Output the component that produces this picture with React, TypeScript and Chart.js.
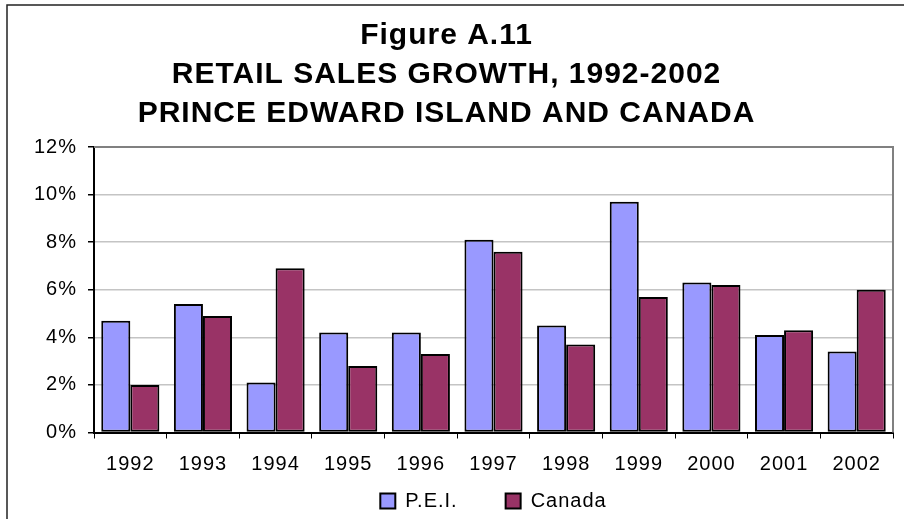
import { useEffect, useRef } from "react";
import { Chart, registerables } from "chart.js";

Chart.register(...registerables);

const years = ["1992", "1993", "1994", "1995", "1996", "1997", "1998", "1999", "2000", "2001", "2002"];
const peiGrowth = [4.7, 5.4, 2.1, 4.2, 4.2, 8.1, 4.5, 9.7, 6.3, 4.1, 3.4];
const canadaGrowth = [2.0, 4.9, 6.9, 2.8, 3.3, 7.6, 3.7, 5.7, 6.2, 4.3, 6.0];
const titleLines = ["Figure A.11", "RETAIL SALES GROWTH, 1992-2002", "PRINCE EDWARD ISLAND AND CANADA"];
const seriesNames = ["P.E.I.", "Canada"];
const yMin = 0;
const yMax = 12;
const yStep = 2;

const FONT = "'Liberation Sans', Arial, Helvetica, sans-serif";

// Slightly open letter spacing for all chart text.
const spacingPlugin = {
  id: "spacing",
  beforeUpdate(chart: any) {
    chart.ctx.letterSpacing = "1px";
  },
  beforeDraw(chart: any) {
    chart.ctx.letterSpacing = "1px";
  },
};

// White background, plot-area border (top/right) and the outer frame.
const framePlugin = {
  id: "frame",
  beforeDraw(chart: any) {
    const { ctx, width, height } = chart;
    ctx.save();
    ctx.fillStyle = "#ffffff";
    ctx.fillRect(0, 0, width, height);
    ctx.restore();
  },
  afterDraw(chart: any) {
    const { ctx, chartArea: a, width, height } = chart;
    ctx.save();
    ctx.strokeStyle = "#808080";
    ctx.lineWidth = 2;
    ctx.beginPath();
    ctx.moveTo(a.left, a.top);
    ctx.lineTo(a.right, a.top);
    ctx.lineTo(a.right, a.bottom);
    ctx.stroke();

    ctx.strokeStyle = "#222222";
    ctx.lineWidth = 1.5;
    ctx.beginPath();
    ctx.moveTo(7, height);
    ctx.lineTo(7, 5);
    ctx.lineTo(width, 5);
    ctx.stroke();
    ctx.restore();
  },
};

export default function App() {
  const canvasRef = useRef<HTMLCanvasElement | null>(null);

  useEffect(() => {
    const canvas = canvasRef.current;
    if (!canvas) return;
    const chart = new Chart(canvas, {
      type: "bar",
      data: {
        labels: years,
        datasets: [
          {
            label: seriesNames[0],
            data: peiGrowth,
            backgroundColor: "#9999ff",
            borderColor: "#000000",
            borderWidth: 2,
            borderSkipped: false,
            categoryPercentage: 0.8,
            barPercentage: 1.0,
          },
          {
            label: seriesNames[1],
            data: canadaGrowth,
            backgroundColor: "#993366",
            borderColor: "#000000",
            borderWidth: 2,
            borderSkipped: false,
            categoryPercentage: 0.8,
            barPercentage: 1.0,
          },
        ],
      },
      options: {
        responsive: false,
        animation: false,
        devicePixelRatio: 1,
        layout: { padding: { left: 0, right: 11, top: 0, bottom: 0 } },
        plugins: {
          title: {
            display: true,
            text: titleLines,
            color: "#000000",
            font: { family: FONT, size: 30, weight: "bold", lineHeight: 1.3 },
            padding: { top: 16.5, bottom: 13.5 },
          },
          legend: {
            display: true,
            position: "bottom",
            fullSize: false,
            maxHeight: 76,
            labels: {
              color: "#000000",
              font: { family: FONT, size: 20 },
              boxWidth: 15,
              boxHeight: 15,
              padding: 48,
            },
          },
          tooltip: { enabled: false },
        },
        scales: {
          x: {
            offset: true,
            grid: {
              display: true,
              drawOnChartArea: false,
              drawTicks: true,
              tickLength: 6,
              tickColor: "#000000",
              offset: true,
            },
            border: { display: true, color: "#000000", width: 2 },
            ticks: {
              color: "#000000",
              font: { family: FONT, size: 20 },
              mirror: true,
              padding: -44,
              maxRotation: 0,
              autoSkip: false,
            },
            afterFit(scale: any) {
              scale.height = 10.5;
            },
          },
          y: {
            min: yMin,
            max: yMax,
            grid: {
              color: "#c4c4c4",
              lineWidth: 1.5,
              tickLength: 6,
              tickColor: "#000000",
            },
            border: { display: true, color: "#000000", width: 2 },
            ticks: {
              stepSize: yStep,
              color: "#000000",
              font: { family: FONT, size: 20 },
              padding: 11,
              callback: (v: any) => `${v}%`,
            },
            afterFit(scale: any) {
              scale.width = 94;
            },
          },
        },
      },
      plugins: [spacingPlugin, framePlugin],
    });
    return () => chart.destroy();
  }, []);

  return (
    <div
      style={{
        position: "fixed",
        left: 0,
        top: 0,
        width: 904,
        height: 519,
        overflow: "hidden",
        background: "#ffffff",
      }}
    >
      <canvas ref={canvasRef} width={904} height={519} />
    </div>
  );
}
